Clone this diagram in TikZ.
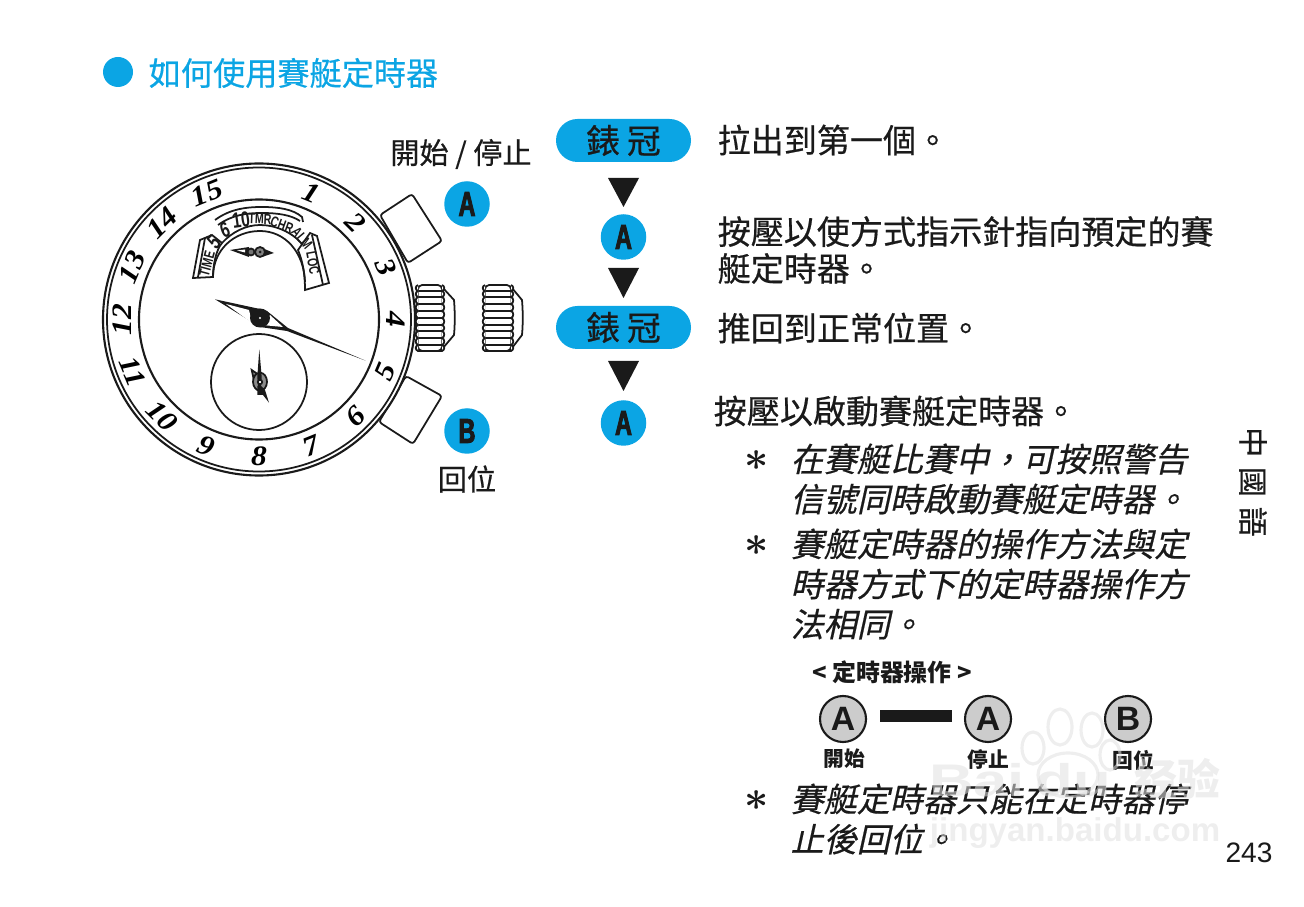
\documentclass[tikz,border=0pt]{standalone}
\usepackage{fontspec}
\setmainfont{Noto Sans CJK TC}
\newfontfamily\bodyfont[FakeBold=0.5]{Noto Sans CJK TC}
\newfontfamily\slantfont[FakeSlant=0.22,FakeBold=0.5]{Noto Sans CJK TC}
\newfontfamily\numfont[FakeStretch=1.12]{Liberation Serif}
\newfontfamily\dialfont[FakeStretch=0.72]{Liberation Sans}
\newfontfamily\keyfont[FakeStretch=0.68,FakeBold=2.5]{Liberation Sans}
\newfontfamily\sansfont{Liberation Sans}
\newfontfamily\markfont[FakeStretch=1.35]{Liberation Sans}
\definecolor{cyanmark}{HTML}{0BA5E4}
\definecolor{inkdark}{HTML}{1A1A1A}
\definecolor{markgray}{HTML}{E0E0E0}
\tikzset{
  bodytext/.style={anchor=west,inner sep=0pt,align=left,text=inkdark,font=\bodyfont\fontsize{9.4}{10.5}\selectfont},
  notetext/.style={anchor=west,inner sep=0pt,align=left,text=inkdark,font=\slantfont\fontsize{9.4}{11.4}\selectfont},
  starmark/.style={inner sep=0pt,text=inkdark,font=\fontsize{12}{12}\selectfont\boldmath},
  toptext/.style={inner sep=0pt,text=inkdark,font=\bodyfont\fontsize{8.3}{10}\selectfont},
  captext/.style={inner sep=0pt,text=inkdark,font=\bfseries\fontsize{5.9}{7}\selectfont},
  keydot/.style={circle,fill=cyanmark,minimum size=45.5*0.01cm,inner sep=0pt,text=inkdark,font=\keyfont\bfseries\fontsize{9.8}{10}\selectfont},
  crownpill/.style={rounded corners=21.5*0.01cm,fill=cyanmark,minimum width=135*0.01cm,minimum height=43*0.01cm,inner sep=0pt,text=inkdark,font=\bodyfont\fontsize{9.6}{10}\selectfont},
  graykey/.style={circle,draw=inkdark,line width=0.6pt,fill=black!20,minimum size=46*0.01cm,inner sep=0pt,text=inkdark,font=\sansfont\bfseries\fontsize{9.6}{10}\selectfont},
  downmark/.style={fill=inkdark},
  watchline/.style={line width=0.5pt,draw=inkdark},
  ribline/.style={line width=0.7pt,draw=inkdark,line cap=round},
  dialtext/.style={inner sep=0pt,text=inkdark,font=\dialfont\bfseries\fontsize{4.2}{5}\selectfont},
  dialnum/.style={inner sep=0pt,text=inkdark,font=\dialfont\bfseries\fontsize{6.2}{7}\selectfont},
  bezelnum/.style={inner sep=0pt,text=black,font=\numfont\bfseries\itshape\fontsize{8}{8}\selectfont},
  watermark/.style={inner sep=0pt,text=markgray,text opacity=0.55},
  markpaw/.style={draw=markgray,line width=0.9pt,opacity=0.55},
}
\begin{document}
\begin{tikzpicture}[x=0.01cm,y=-0.01cm]
\useasboundingbox (0,0) rectangle (1304,907);

\fill[cyanmark] (118,72) circle (15);
\node[anchor=west,inner sep=0pt,text=cyanmark,font=\bodyfont\fontsize{9.15}{10}\selectfont] (title) at (148,73) {如何使用賽艇定時器};

\draw[watchline,fill=white,rounded corners=0.8pt] (380,215) -- (412,194) -- (442,241) -- (408,263) -- cycle;
\draw[watchline,fill=white,rounded corners=0.8pt] (406,376) -- (442,396) -- (413,444) -- (379,422) -- cycle;

\foreach \xa/\xb/\xc in {417/443/454,484/512/522} {
  \draw[watchline,fill=white] (\xb,288) -- (\xc,300) .. controls (\xc+1,312) and (\xc+1,324) .. (\xc,335) -- (\xb,348);
  \draw[watchline,fill=white,rounded corners=1.2pt] (\xa+1,285) -- (\xb-1,285) -- (\xb,318) -- (\xb-1,351) -- (\xa+1,351) -- (\xa,318) -- cycle;
  \foreach \ya/\yb in {285/291,291/297,297/304,304/311,311/318,318/325,325/331,331/338,338/345,345/351} {
    \draw[ribline] (\xa+1,\yb) -- (\xb-1,\yb);
    \draw[watchline,fill=white] (\xa+1,\ya) .. controls (\xa-2,\ya+1) and (\xa-2,\yb-1) .. (\xa+1,\yb);
    \draw[watchline,fill=white] (\xb-1,\ya) .. controls (\xb+2,\ya+1) and (\xb+2,\yb-1) .. (\xb-1,\yb);
  }
}

\draw[watchline,line width=0.6pt,fill=white] (259,319.5) circle (156);
\draw[watchline] (259,319.5) circle (152);
\draw[watchline,line width=0.6pt] (259,319.5) circle (120);

\foreach \n/\ang/\rot in {1/22.5/-22,2/45/-45,3/67.5/-67,4/90/-90,5/112.5/67,6/135/45,7/157.5/22,8/180/0,
  9/202.5/-22,10/225/-45,11/247.5/-67,12/270/90,13/292.5/67,14/315/45,15/337.5/22} {
  \node[bezelnum,rotate=\rot] (num\n) at ({259+137*sin(\ang)},{319.5-137*cos(\ang)}) {\n};
}

\draw[watchline] (259,382) circle (48);
\draw[watchline] (215,220) .. controls (230,209) and (246,207) .. (262,207) .. controls (278,207) and (293,209) .. (302,217) -- (303,222);
\draw[watchline] (218,225) .. controls (232,215) and (246,213) .. (262,213) .. controls (278,213) and (291,215) .. (300,221);
\draw[watchline,fill=white] (200,240) -- (193,278) -- (213,277) .. controls (213,265) and (216,250) .. (222,243) -- (212,235) -- cycle;
\draw[watchline] (205,238) -- (198,277);
\draw[watchline,fill=white] (317,236) -- (329,283) -- (305,290) .. controls (305,275) and (303,262) .. (298,250) -- (310,233) -- cycle;
\draw[watchline] (312,235) -- (323,285);
\draw[watchline] (213,277) .. controls (213,250) and (234,231) .. (260,231) .. controls (285,231) and (304,252) .. (305,282);
\draw[watchline] (222,243) .. controls (232,232) and (246,225) .. (260,225) .. controls (275,225) and (292,232) .. (302,244);
\foreach \ax/\ay/\bx/\by in {216,256,206,252,227,240,222,234,241,233,238,226,253,231,252,225,269,231,271,225,285,237,289,231,298,250,306,246} {
  \draw[watchline,line width=0.35pt] (\ax,\ay) -- (\bx,\by);
}
\node[dialtext,rotate=75] (dialtime) at (207,264) {TIME};
\node[dialnum,rotate=45] (dialfive) at (214,242) {5};
\node[dialnum,rotate=20] (dialsix) at (225,230) {6};
\node[dialnum,rotate=8] (dialten) at (241,220) {10};
\node[dialtext,rotate=-2] (dialtmr) at (260,219) {TMR};
\node[dialtext,rotate=-20] (dialchr) at (282,225) {CHR};
\node[dialtext,rotate=-50] (dialalm) at (302,238) {ALM};
\node[dialtext,rotate=-80] (dialloc) at (313,263) {LOC};

\fill[inkdark] (230,250) -- (249,247) -- (249,257) -- cycle;
\fill[white] (237,250.5) -- (245,249.5) -- (245,252.5) -- cycle;
\fill[inkdark] (262,248) -- (274,253) -- (262,257) -- cycle;
\draw[watchline,fill=black!55] (251,252) circle (3.5);
\draw[watchline,fill=black!50] (260,252) circle (5);
\fill[inkdark] (260,252) circle (1.5);

\fill[inkdark] (215,299.3) -- (260,309) -- (267,311) -- (288,328) -- (365.7,360.7) -- (287,331) -- (260,327) -- cycle;
\fill[white] (226,304) -- (249,310) -- (252,323) -- cycle;
\fill[white] (270,315) -- (283,327) -- (262,325) -- cycle;
\fill[inkdark] (260,318) ellipse (10 and 9.5);
\fill[white] (260,318) circle (1.2);

\draw[watchline,fill=black!45] (251.7,370) -- (256,373) -- (262,388) -- (255,385) -- cycle;
\draw[watchline,fill=black!45] (260,381.7) ellipse (7 and 9);
\fill[inkdark] (259.3,349.3) -- (261.7,377) -- (261,386) -- (258,386) -- (257.3,377) -- cycle;
\fill[inkdark] (257.3,386) -- (261,386) -- (265,390) -- (269,402.7) -- (263,395) -- (257.3,395) -- cycle;
\draw[watchline,fill=white] (260,382) circle (2.2);

\node[toptext] (startstop) at (461,154) {開始 / 停止};
\node[keydot] (pusha) at (467,204) {A};
\node[keydot] (pushb) at (467,431) {B};
\node[toptext] (reset) at (467,479) {回位};

\node[crownpill] (crowna) at (623.5,140.5) {錶\hspace{2pt}冠};
\node[keydot] (stepa) at (623.5,237) {A};
\node[crownpill] (crownb) at (623.5,327.5) {錶\hspace{2pt}冠};
\node[keydot] (stepb) at (623.5,423) {A};
\fill[downmark] (608,178) -- (639,178) -- (623.5,207) -- cycle;
\fill[downmark] (608,268) -- (639,268) -- (623.5,298) -- cycle;
\fill[downmark] (608,361) -- (639,361) -- (623.5,391) -- cycle;

\node[bodytext] (pull) at (717,140) {拉出到第一個。};
\node[bodytext] (press) at (717,250) {按壓以使方式指示針指向預定的賽\\艇定時器。};
\node[bodytext] (pushin) at (717,328) {推回到正常位置。};
\node[bodytext] (start) at (713,411) {按壓以啟動賽艇定時器。};

\node[starmark] (stara) at (757,461) {$\ast$};
\node[notetext] (notea) at (790,479) {在賽艇比賽中^^^^ff0c可按照警告\\信號同時啟動賽艇定時器。};
\node[starmark] (starb) at (757,546) {$\ast$};
\node[notetext] (noteb) at (790,584) {賽艇定時器的操作方法與定\\時器方式下的定時器操作方\\法相同。};
\node[starmark] (starc) at (757,801) {$\ast$};
\node[notetext] (notec) at (790,819) {賽艇定時器只能在定時器停\\止後回位。};

\node[inner sep=0pt,text=inkdark,font=\bfseries\fontsize{6.8}{7}\selectfont] (timerhead) at (892,672) {< 定時器操作 >};
\node[graykey] (keystart) at (843,719) {A};
\node[graykey] (keystop) at (988,719) {A};
\node[graykey] (keyreset) at (1128,719) {B};
\fill[inkdark] (880,710) rectangle (952,722);
\node[captext] (capstart) at (844,759) {開始};
\node[captext] (capstop) at (988,759) {停止};
\node[captext] (capreset) at (1133,760) {回位};

\node[rotate=-90,inner sep=0pt,text=inkdark,font=\bodyfont\fontsize{8.5}{9}\selectfont] (language) at (1253,482) {中\hspace{2.8pt}國\hspace{2.8pt}語};
\node[inner sep=0pt,text=inkdark,font=\sansfont\fontsize{8}{8}\selectfont] (pagenum) at (1249,853) {243};

\draw[markpaw] (1033,748) ellipse (11 and 16);
\draw[markpaw] (1060,727) ellipse (12 and 18);
\draw[markpaw] (1092,730) ellipse (11 and 17);
\draw[markpaw] (1110,755) ellipse (10 and 15);
\draw[markpaw] (1068,775) ellipse (30 and 22);
\node[watermark,font=\markfont\bfseries\fontsize{13}{13}\selectfont] (markbrand) at (1020,780) {Bai\hspace{3pt}du};
\node[watermark,font=\bfseries\fontsize{12.2}{13}\selectfont] (markword) at (1177,779) {经验};
\node[watermark,font=\sansfont\bfseries\fontsize{9.4}{10}\selectfont] (markurl) at (1075,833) {jingyan.baidu.com};
\end{tikzpicture}
\end{document}
